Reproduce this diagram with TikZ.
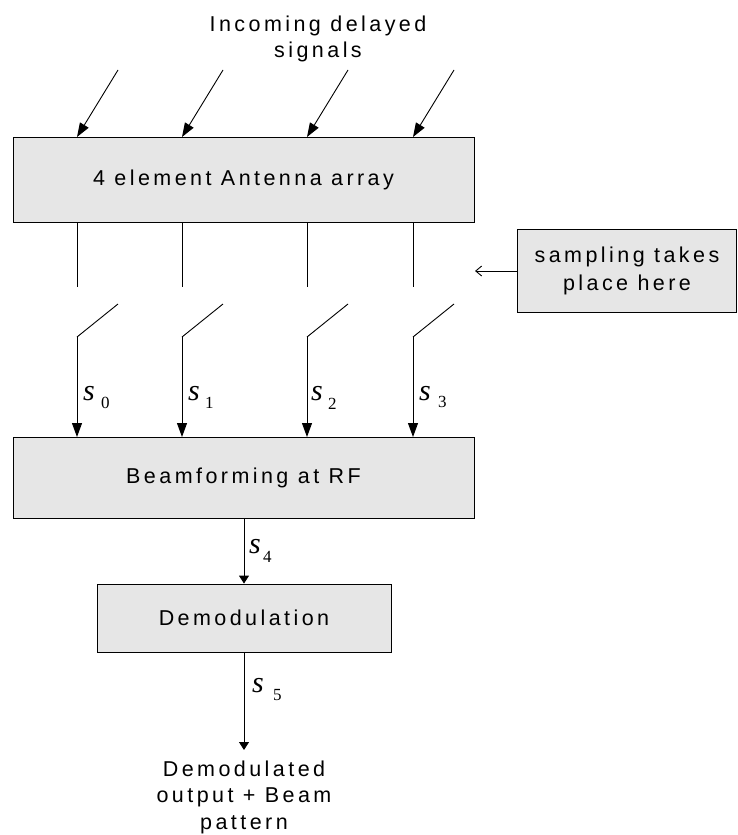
\documentclass[tikz,border=0pt]{standalone}
\usepackage{fontspec}
\usetikzlibrary{arrows.meta}
\newfontfamily\labelfont{Liberation Sans}[LetterSpace=16]
\newfontfamily\sigfont{Liberation Serif}
\definecolor{boxgray}{HTML}{E6E6E6}

\begin{document}
\begin{tikzpicture}[x=1pt, y=-1pt,
  block/.style={draw, fill=boxgray, line width=0.9pt, inner sep=0pt, align=center,
                font=\fontsize{21.5}{28}\selectfont\labelfont},
  txt/.style={inner sep=0pt, align=center, font=\fontsize{21.5}{26.5}\selectfont\labelfont},
  wire/.style={line width=0.9pt},
  feed/.style={line width=0.9pt, -{Triangle[length=14pt, width=10pt]}},
  feedshort/.style={line width=0.9pt, -{Triangle[length=8pt, width=10pt]}},
  pointer/.style={line width=0.9pt, -{Straight Barb[length=6pt, width=10pt]}},
  sname/.style={anchor=base west, inner sep=0pt, font=\fontsize{30}{30}\selectfont\sigfont\itshape},
  sidx/.style={anchor=base west, inner sep=0pt, font=\fontsize{17}{17}\selectfont\sigfont}]

\useasboundingbox (0,0) rectangle (738,835);

% blocks
\node[block, minimum width=461pt, minimum height=85pt] (ant) at (243.5,179.5) {4 element Antenna array};
\node[block, minimum width=461pt, minimum height=81pt] (bf) at (243.5,477.5) {Beamforming at RF};
\node[block, minimum width=294pt, minimum height=68pt] (dem) at (244,618) {Demodulation};
\node[block, minimum width=219pt, minimum height=83pt] (samp) at (627,270.5) {sampling takes\\place here};

% free texts
\node[txt] (title) at (318,39) {Incoming delayed\\signals};
\node[txt] (out) at (244,797) {Demodulated\\output + Beam\\pattern};

% incoming signals onto the array, and the sampling switches below it
\foreach \i/\x in {0/77, 1/182, 2/307, 3/413} {
  \coordinate (in\i) at (\x+41,70);
  \coordinate (rx\i) at (\x,137);
  \coordinate (top\i) at (\x,222);
  \coordinate (open\i) at (\x,287);
  \coordinate (pivot\i) at (\x,337);
  \coordinate (blade\i) at (\x+41,304);
  \coordinate (bin\i) at (\x,437);
  \draw[feed] (in\i) -- (rx\i);
  \draw[wire] (top\i) -- (open\i);
  \draw[wire] (pivot\i) -- (blade\i);
  \draw[feed] (pivot\i) -- (bin\i);
}

% pointer from the note to the switches
\coordinate (tip) at (475,271);
\draw[pointer] (samp.west |- tip) -- (tip);

% downstream chain
\coordinate (outtop) at (244,750);
\draw[feedshort] (bf.south -| dem.north) -- (dem.north);
\draw[feedshort] (dem.south) -- (outtop);

% signal names
\node[sname] (s0) at (83,400) {s};  \node[sidx] (s0i) at (101,408) {0};
\node[sname] (s1) at (188,400) {s}; \node[sidx] (s1i) at (205,408) {1};
\node[sname] (s2) at (311,400) {s}; \node[sidx] (s2i) at (328,409) {2};
\node[sname] (s3) at (419,400) {s}; \node[sidx] (s3i) at (438,407) {3};
\node[sname] (s4) at (249,553) {s}; \node[sidx] (s4i) at (263,562) {4};
\node[sname] (s5) at (252,692) {s}; \node[sidx] (s5i) at (273,700) {5};

\end{tikzpicture}
\end{document}
